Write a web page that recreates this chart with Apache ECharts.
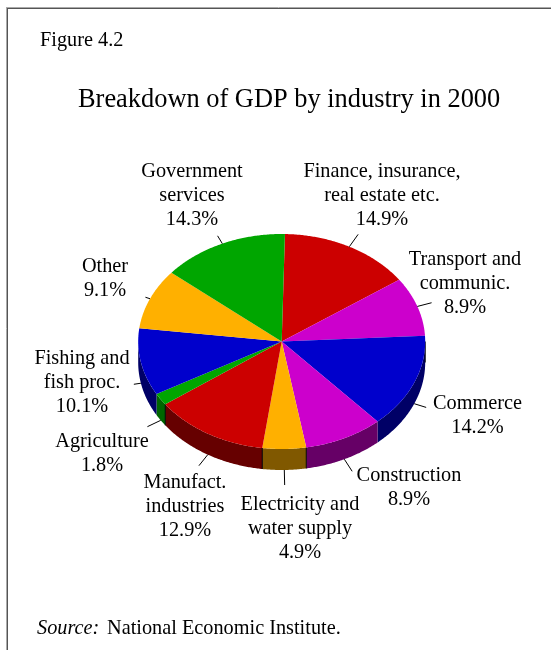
<!DOCTYPE html>
<html>
<head>
<meta charset="utf-8">
<style>html,body{margin:0;padding:0;background:#fff}#chart{width:551px;height:650px}</style>
<script src="https://cdn.jsdelivr.net/npm/echarts@6/dist/echarts.min.js"></script>
</head>
<body>
<div id="chart"></div>
<script>
// GDP shares by industry, clockwise from the top of the pie
const industries = [
  'Finance, insurance,\nreal estate etc.',
  'Transport and\ncommunic.',
  'Commerce',
  'Construction',
  'Electricity and\nwater supply',
  'Manufact.\nindustries',
  'Agriculture',
  'Fishing and\nfish proc.',
  'Other',
  'Government\nservices'
];
const shares = [14.9, 8.9, 14.2, 8.9, 4.9, 12.9, 1.8, 10.1, 9.1, 14.3];

const figureLabel = 'Figure 4.2';
const chartTitle = 'Breakdown of GDP by industry in 2000';
const sourceLabel = 'Source:';
const sourceText = 'National Economic Institute.';

// Slice palette: top faces and the darker rim faces
const topColors = ['#CC0000', '#CC00CC', '#0000CC', '#CC00CC', '#FFB000', '#CC0000', '#00A600', '#0000CC', '#FFB000', '#00A600'];
const rimColors = ['#660000', '#660066', '#000066', '#660066', '#805800', '#660000', '#006600', '#000066', '#805800', '#006600'];

// Label block centres (x, y of first line), in slice order
const labelPlaces = [
  [382, 172], [465, 260], [477.5, 404], [409, 476], [300, 505],
  [185, 483], [102, 442], [82, 359], [105, 267], [192, 172]
];
// Leader length per slice, as a fraction of the radius
const leaderReach = [0.13, 0.105, 0.09, 0.125, 0.14, 0.12, 0.11, 0.05, 0.035, 0.08];
// Slices whose leading rim edge carries a dark seam
const seamSlices = [2, 4, 5, 6];
const LINE_HEIGHT = 24;
const LABEL_FONT = '20.3px "Liberation Serif"';

// Tilted pie geometry
const CX = 281.7, CY = 341.5, RX = 143.5, RY = 107.5, DEPTH = 21;
const START_DEG = 1.3;

const total = shares.reduce((a, b) => a + b, 0);
const rows = [];
let running = 0;
shares.forEach((v, i) => {
  const from = START_DEG + running / total * 360;
  running += v;
  rows.push([i, from, START_DEG + running / total * 360, v]);
});

const rimPoint = (deg, drop, k) => {
  const a = deg * Math.PI / 180;
  return [CX + RX * (k || 1) * Math.sin(a), CY - RY * (k || 1) * Math.cos(a) + (drop || 0)];
};
const arc = (a, b, drop) => {
  const pts = [];
  const n = Math.max(2, Math.ceil((b - a) * 2));
  for (let j = 0; j <= n; j++) pts.push(rimPoint(a + (b - a) * j / n, drop));
  return pts;
};

function renderRim(params, api) {
  const from = Math.max(api.value(1), 90), to = Math.min(api.value(2), 270);
  if (to <= from) return { type: 'group', children: [] };
  const i = api.value(0);
  const upper = arc(from, to, 0), lower = arc(from, to, DEPTH).reverse();
  const children = [{ type: 'polygon', shape: { points: upper.concat(lower) }, style: { fill: rimColors[i] } }];
  if (seamSlices.includes(i)) {
    const p = upper[0];
    children.push({
      type: 'line',
      shape: { x1: p[0], y1: p[1], x2: p[0], y2: p[1] + DEPTH },
      style: { stroke: '#000', lineWidth: 1 }
    });
  }
  return { type: 'group', children };
}

function renderTop(params, api) {
  const i = api.value(0);
  return {
    type: 'polygon',
    shape: { points: [[CX, CY]].concat(arc(api.value(1), api.value(2), 0)) },
    style: { fill: topColors[i] }
  };
}

function renderLabel(params, api) {
  const i = api.value(0);
  const mid = (api.value(1) + api.value(2)) / 2;
  const drop = mid > 90 && mid < 270 ? DEPTH : 0;
  const a = rimPoint(mid, drop);
  const b = rimPoint(mid, drop, 1 + leaderReach[i]);
  const lines = industries[i].split('\n').concat(api.value(3).toFixed(1) + '%');
  const [lx, ly] = labelPlaces[i];
  const children = [{
    type: 'line',
    shape: { x1: a[0], y1: a[1], x2: b[0], y2: b[1] },
    style: { stroke: '#000', lineWidth: 1 }
  }];
  lines.forEach((t, k) => children.push({
    type: 'text',
    style: {
      x: lx, y: ly + k * LINE_HEIGHT, text: t,
      align: 'center', verticalAlign: 'middle',
      font: LABEL_FONT, fill: '#000'
    }
  }));
  return { type: 'group', children };
}

const dims = ['slice', 'from', 'to', 'share'];
const layer = (renderItem, z) => ({
  type: 'custom', coordinateSystem: 'none', renderItem, data: rows, dimensions: dims, z, silent: true
});

const chart = echarts.init(document.getElementById('chart'), null, { renderer: 'canvas' });
chart.setOption({
  animation: false,
  backgroundColor: '#fff',
  title: {
    text: chartTitle, left: 73, top: 82,
    textStyle: { fontFamily: 'Liberation Serif', fontSize: 26.4, fontWeight: 'normal', color: '#000' }
  },
  graphic: [
    // Frame: soft outer hairline with a darker inner one, open on the right and at the foot
    { type: 'line', z: 0, shape: { x1: 6, y1: 7.5, x2: 551, y2: 7.5 }, style: { stroke: '#aaa', lineWidth: 1 } },
    { type: 'line', z: 0, shape: { x1: 6.5, y1: 7, x2: 6.5, y2: 650 }, style: { stroke: '#aaa', lineWidth: 1 } },
    { type: 'line', z: 0, shape: { x1: 7, y1: 8.5, x2: 551, y2: 8.5 }, style: { stroke: '#555', lineWidth: 1 } },
    { type: 'line', z: 0, shape: { x1: 7.5, y1: 8, x2: 7.5, y2: 650 }, style: { stroke: '#555', lineWidth: 1 } },
    { type: 'text', left: 40, top: 31, style: { text: figureLabel, font: LABEL_FONT, fill: '#000' } },
    { type: 'text', left: 37, top: 618.5, style: { text: sourceLabel, font: 'italic ' + LABEL_FONT, fill: '#000' } },
    { type: 'text', left: 107, top: 618.5, style: { text: sourceText, font: LABEL_FONT, fill: '#000' } }
  ],
  series: [layer(renderRim, 1), layer(renderTop, 2), layer(renderLabel, 3)]
});
</script>
</body>
</html>
